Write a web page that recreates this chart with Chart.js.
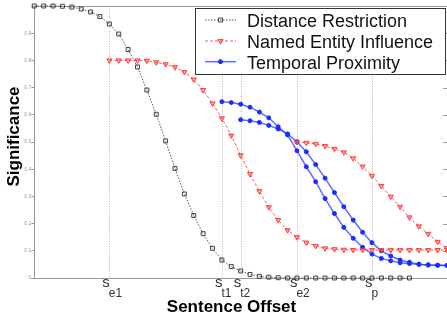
<!DOCTYPE html>
<html><head><meta charset="utf-8">
<script src="https://cdn.jsdelivr.net/npm/chart.js@4/dist/chart.umd.min.js"></script>
<style>
html,body{margin:0;padding:0;background:#fff;overflow:hidden;width:447px;height:321px}
canvas{display:block}
</style></head>
<body>
<canvas id="c" width="452" height="321" style="width:452px;height:321px"></canvas>
<script>
// ---- data ----
const seriesNames = ['Distance Restriction', 'Named Entity Influence', 'Temporal Proximity'];
const xTitle = 'Sentence Offset';
const yTitle = 'Significance';
const offsetMarkers = [8, 20, 22, 28, 36];
const offsetSubscripts = ['e1', 't1', 't2', 'e2', 'p'];
const yTickValues = [0, 0.1, 0.2, 0.3, 0.4, 0.5, 0.6, 0.7, 0.8, 0.9, 1];
const yTickLabels = ['0', '0.1', '0.2', '0.3', '0.4', '0.5', '0.6', '0.7', '0.8', '0.9', ''];

const distanceStart = 0;
const distanceValues = [1.0, 1.0, 1.0, 0.999, 0.996, 0.989, 0.978, 0.961, 0.934, 0.897, 0.84, 0.776, 0.691, 0.602, 0.504, 0.403, 0.309, 0.23, 0.163, 0.109, 0.066, 0.042, 0.026, 0.013, 0.006, 0.003, 0.001, 0, 0, 0, 0, 0, 0, 0, 0, 0, 0, 0, 0, 0, 0];

const entity1Start = 8;
const entity1Values = [0.80, 0.80, 0.80, 0.80, 0.799, 0.793, 0.786, 0.775, 0.757, 0.730, 0.691, 0.642, 0.587, 0.524, 0.451, 0.382, 0.319, 0.26, 0.213, 0.176, 0.15, 0.13, 0.118, 0.109, 0.106, 0.104, 0.103, 0.103, 0.103, 0.103, 0.103, 0.103, 0.103, 0.103, 0.103, 0.103, 0.103];

const entity2Start = 28;
const entity2Values = [0.50, 0.497, 0.493, 0.485, 0.475, 0.462, 0.44, 0.41, 0.376, 0.338, 0.299, 0.262, 0.223, 0.19, 0.162, 0.133, 0.11];

const temporal1Start = 20;
const temporal1Values = [0.648, 0.645, 0.639, 0.628, 0.61, 0.589, 0.556, 0.526, 0.468, 0.409, 0.354, 0.292, 0.237, 0.186, 0.146, 0.113, 0.088, 0.072, 0.063, 0.056, 0.053, 0.05, 0.048, 0.047, 0.046];

const temporal2Start = 22;
const temporal2Values = [0.582, 0.578, 0.572, 0.561, 0.548, 0.53, 0.501, 0.464, 0.417, 0.367, 0.314, 0.262, 0.213, 0.168, 0.13, 0.10, 0.081, 0.066, 0.058, 0.051, 0.048, 0.047, 0.046];

const xMin = 0, xMax = 44, yMin = 0, yMax = 1;

// ---- build ----
function toPoints(start, values) { return values.map((v, i) => ({x: start + i, y: v})); }

const FONT = "'Liberation Sans', Arial, Helvetica, sans-serif";

const styleBlack = {borderColor: '#555', borderWidth: 1, borderDash: [1.5, 1.5], pointStyle: 'rect', pointRadius: 2.8, pointBorderWidth: 1, pointBorderColor: '#444', pointBackgroundColor: 'rgba(255,255,255,0)'};
const styleRed = {borderColor: 'rgba(255,60,60,0.85)', borderWidth: 1, borderDash: [3, 2], pointStyle: 'triangle', pointRotation: 180, pointRadius: 3, pointBorderWidth: 1, pointBorderColor: 'rgba(255,50,50,0.9)', pointBackgroundColor: 'rgba(255,110,110,0.6)'};
const styleBlue = {borderColor: 'rgba(40,60,255,0.75)', borderWidth: 1.5, borderDash: [], pointStyle: 'circle', pointRadius: 2, pointBorderWidth: 1, pointBorderColor: '#1a2cff', pointBackgroundColor: '#1a2cff'};

const datasets = [
  Object.assign({label: seriesNames[0], data: toPoints(distanceStart, distanceValues)}, styleBlack),
  Object.assign({label: seriesNames[1], data: toPoints(entity1Start, entity1Values)}, styleRed),
  Object.assign({label: seriesNames[1] + ' 2', data: toPoints(entity2Start, entity2Values)}, styleRed),
  Object.assign({label: seriesNames[2], data: toPoints(temporal1Start, temporal1Values)}, styleBlue),
  Object.assign({label: seriesNames[2] + ' 2', data: toPoints(temporal2Start, temporal2Values)}, styleBlue),
].map(d => Object.assign(d, {clip: false, tension: 0, fill: false}));

const legendItems = [[0, styleBlack], [1, styleRed], [2, styleBlue]];

const overlay = {
  id: 'overlay',
  beforeDatasetsDraw(chart) {
    const {ctx, chartArea: a, scales: {x, y}} = chart;
    ctx.save();
    ctx.lineWidth = 1;
    ctx.strokeStyle = '#b5b5b5';
    ctx.setLineDash([1, 1.5]);
    offsetMarkers.forEach(v => {
      const px = Math.round(x.getPixelForValue(v)) + 0.5;
      ctx.beginPath(); ctx.moveTo(px, a.top); ctx.lineTo(px, a.bottom); ctx.stroke();
    });
    ctx.setLineDash([]);
    ctx.strokeStyle = '#999';
    ctx.beginPath(); ctx.moveTo(a.left, Math.round(a.top) + 0.5); ctx.lineTo(a.right, Math.round(a.top) + 0.5); ctx.stroke();
    yTickValues.forEach(v => {
      const py = Math.round(y.getPixelForValue(v)) + 0.5;
      ctx.beginPath(); ctx.moveTo(a.right - 4, py); ctx.lineTo(a.right, py); ctx.stroke();
    });
    ctx.restore();
  },
  afterDraw(chart) {
    const {ctx, chartArea: a, scales: {x}} = chart;
    ctx.save();
    // x offset labels
    ctx.fillStyle = '#333';
    offsetMarkers.forEach((v, i) => {
      const px = x.getPixelForValue(v);
      ctx.font = '15px ' + FONT; ctx.textAlign = 'right'; ctx.textBaseline = 'alphabetic';
      ctx.fillText('s', px + 0.5, 287);
      ctx.font = '12px ' + FONT; ctx.textAlign = 'left';
      ctx.fillText(offsetSubscripts[i], px - 0.5, 296.5);
    });
    // axis titles
    ctx.fillStyle = '#000';
    ctx.font = 'bold 17px ' + FONT; ctx.textAlign = 'center';
    ctx.fillText(xTitle, 231.5, 311.5);
    ctx.save();
    ctx.translate(18.5, 136.5); ctx.rotate(-Math.PI / 2);
    ctx.fillText(yTitle, 0, 0);
    ctx.restore();
    // legend
    const bx = 195.5, by = 8.5, bw = 250, bh = 66;
    ctx.fillStyle = '#fff'; ctx.fillRect(bx, by, bw, bh);
    ctx.strokeStyle = '#333'; ctx.lineWidth = 1; ctx.strokeRect(bx, by, bw, bh);
    const rowsY = [20, 41, 61.7];
    legendItems.forEach(([idx, st], r) => {
      const cy = rowsY[r];
      ctx.save();
      ctx.strokeStyle = st.borderColor; ctx.lineWidth = st.borderWidth; ctx.setLineDash(st.borderDash);
      ctx.beginPath(); ctx.moveTo(205, cy); ctx.lineTo(236, cy); ctx.stroke();
      ctx.setLineDash([]);
      ctx.strokeStyle = st.pointBorderColor; ctx.fillStyle = st.pointBackgroundColor; ctx.lineWidth = st.pointBorderWidth;
      Chart.helpers.drawPoint(ctx, {pointStyle: st.pointStyle, radius: st.pointRadius, rotation: st.pointRotation || 0, borderWidth: st.pointBorderWidth}, 220.5, cy);
      ctx.restore();
      ctx.fillStyle = '#111'; ctx.font = '18px ' + FONT; ctx.textAlign = 'left'; ctx.textBaseline = 'alphabetic';
      ctx.fillText(seriesNames[idx], 247, cy + 6.8);
    });
    ctx.restore();
  }
};

new Chart(document.getElementById('c'), {
  type: 'line',
  data: {datasets},
  options: {
    responsive: false,
    animation: false,
    devicePixelRatio: 1,
    layout: {padding: {left: 0, top: 6, right: 2.8, bottom: 43}},
    plugins: {legend: {display: false}, tooltip: {enabled: false}, title: {display: false}},
    scales: {
      x: {
        type: 'linear', min: xMin, max: xMax,
        ticks: {display: false},
        grid: {display: false, drawTicks: false},
        border: {display: true, color: '#999', width: 1},
        afterFit: s => { s.height = 0; }
      },
      y: {
        type: 'linear', min: yMin, max: yMax,
        afterBuildTicks: s => { s.ticks = yTickValues.map(v => ({value: v})); },
        ticks: {
          font: {size: 5, family: FONT}, color: '#999', padding: 0,
          callback: (v, i) => yTickLabels[i]
        },
        grid: {display: true, drawOnChartArea: false, drawTicks: true, tickLength: 3, color: '#999'},
        border: {display: true, color: '#999', width: 1},
        afterFit: s => { s.width = 34.3; }
      }
    }
  },
  plugins: [overlay]
});
</script>
</body></html>
